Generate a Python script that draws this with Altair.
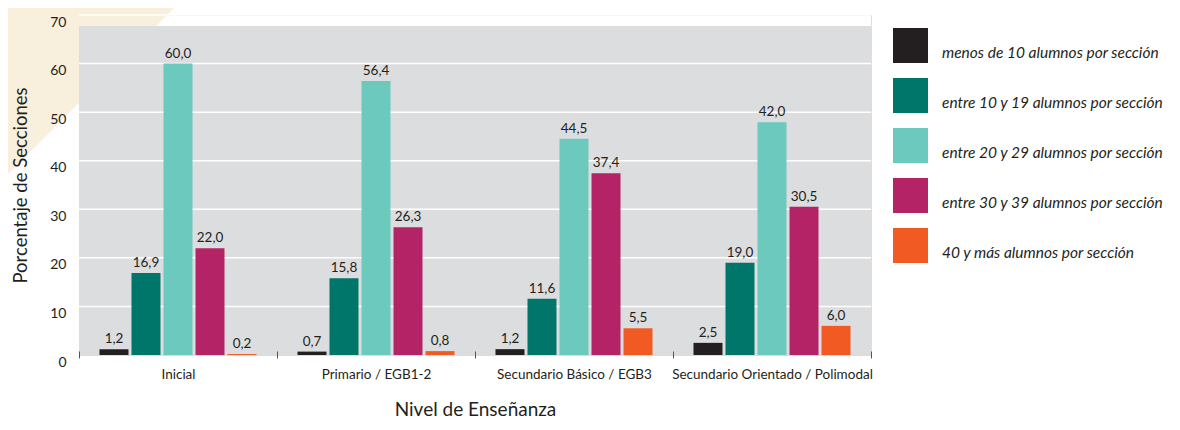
import altair as alt
import pandas as pd

groups = ["Inicial", "Primario / EGB1-2", "Secundario Básico / EGB3", "Secundario Orientado / Polimodal"]
series = [
    "menos de 10 alumnos por sección",
    "entre 10 y 19 alumnos por sección",
    "entre 20 y 29 alumnos por sección",
    "entre 30 y 39 alumnos por sección",
    "40 y más alumnos por sección",
]
colors = ["#231f20", "#00756a", "#6cc9be", "#b52367", "#f15a22"]

# bar heights as drawn in the picture
v_menos10 = [1.2, 0.7, 1.2, 2.5]
v_10_19 = [16.9, 15.8, 11.6, 19.0]
v_20_29 = [60.0, 56.4, 44.5, 47.9]
v_30_39 = [22.0, 26.3, 37.4, 30.5]
v_40mas = [0.2, 0.8, 5.5, 6.0]

# value labels printed above the bars
l_menos10 = ["1,2", "0,7", "1,2", "2,5"]
l_10_19 = ["16,9", "15,8", "11,6", "19,0"]
l_20_29 = ["60,0", "56,4", "44,5", "42,0"]
l_30_39 = ["22,0", "26,3", "37,4", "30,5"]
l_40mas = ["0,2", "0,8", "5,5", "6,0"]

y_ticks = [0, 10, 20, 30, 40, 50, 60, 70]
grid_vals = [10, 20, 30, 40, 50, 60, 70]

values = [v_menos10, v_10_19, v_20_29, v_30_39, v_40mas]
labels = [l_menos10, l_10_19, l_20_29, l_30_39, l_40mas]
rows = []
for s, vals, labs in zip(series, values, labels):
    for g, v, l in zip(groups, vals, labs):
        rows.append({"grupo": g, "serie": s, "valor": v, "etiqueta": l})
df = pd.DataFrame(rows)
grid_df = pd.DataFrame({"valor": grid_vals})

FONT = "Lato"
W, H = 792, 340

x_enc = alt.X(
    "grupo:N", sort=groups,
    scale=alt.Scale(paddingInner=0, paddingOuter=0),
    axis=alt.Axis(
        title="Nivel de Enseñanza", labelAngle=0, tickBand="extent", domain=False,
        ticks=True, tickSize=7, tickColor="#555555", tickWidth=1, offset=-4, zindex=1,
        labelPadding=9, labelFontSize=13.5, labelColor="#231f20", labelFont=FONT,
        labelLimit=400,
        titleFont=FONT, titleFontSize=19, titleFontWeight="normal", titleColor="#231f20",
        titlePadding=20, grid=False,
    ),
)
xoff = alt.XOffset("serie:N", sort=series, scale=alt.Scale(paddingInner=0.094, paddingOuter=0.64))
y_axis = alt.Axis(
    values=y_ticks, grid=False, domain=False, ticks=False, labelPadding=13, zindex=1,
    labelFontSize=14, labelColor="#231f20", labelFont=FONT, labelBaseline="top",
    title="Porcentaje de Secciones", titleFont=FONT, titleFontSize=18.5,
    titleFontWeight="normal", titleColor="#231f20", titlePadding=19,
)
y_scale = alt.Scale(domain=[0, 70], nice=False)
y_enc = alt.Y("valor:Q", scale=y_scale, axis=y_axis)

tri = alt.Chart(pd.DataFrame({"k": [0]})).mark_point(
    shape="M-1,-1L1,-1L-1,1Z", filled=True, color="#f8efdc", opacity=1,
    strokeWidth=0, size=182 * 182,
).encode(x=alt.value(12), y=alt.value(76))

bg = alt.Chart(pd.DataFrame({"k": [0]})).mark_rect(color="#dcdddf").encode(
    x=alt.value(0), x2=alt.value(W), y=alt.value(11), y2=alt.value(H)
)

grid = alt.Chart(grid_df).mark_rule(color="white", strokeWidth=1.5).encode(y=y_enc)

bars = alt.Chart(df).mark_bar().encode(
    x=x_enc, xOffset=xoff, y=y_enc,
    color=alt.Color(
        "serie:N", sort=series, scale=alt.Scale(domain=series, range=colors),
        legend=alt.Legend(
            title=None, orient="none", legendX=814, legendY=13, padding=0,
            symbolType="square", symbolSize=1225, symbolStrokeWidth=0, symbolOpacity=1,
            rowPadding=15, labelOffset=14, labelFontSize=15.5, labelFontStyle="italic",
            labelFont=FONT, labelColor="#231f20", labelLimit=400, labelBaseline="top",
        ),
    ),
)

texts = alt.Chart(df).mark_text(
    dy=-6, baseline="alphabetic", fontSize=13.5, font=FONT, color="#231f20"
).encode(x=x_enc, xOffset=xoff, y=y_enc, text="etiqueta:N")

chart = alt.layer(tri, bg, grid, bars, texts).resolve_scale(y="shared").properties(
    width=W, height=H,
    autosize=alt.AutoSizeParams(type="none"),
    padding={"left": 71, "top": 7, "right": 301, "bottom": 67},
).configure_view(stroke=None).configure(background="white")

chart.save("out.html", embed_options={"renderer": "svg", "actions": False})
